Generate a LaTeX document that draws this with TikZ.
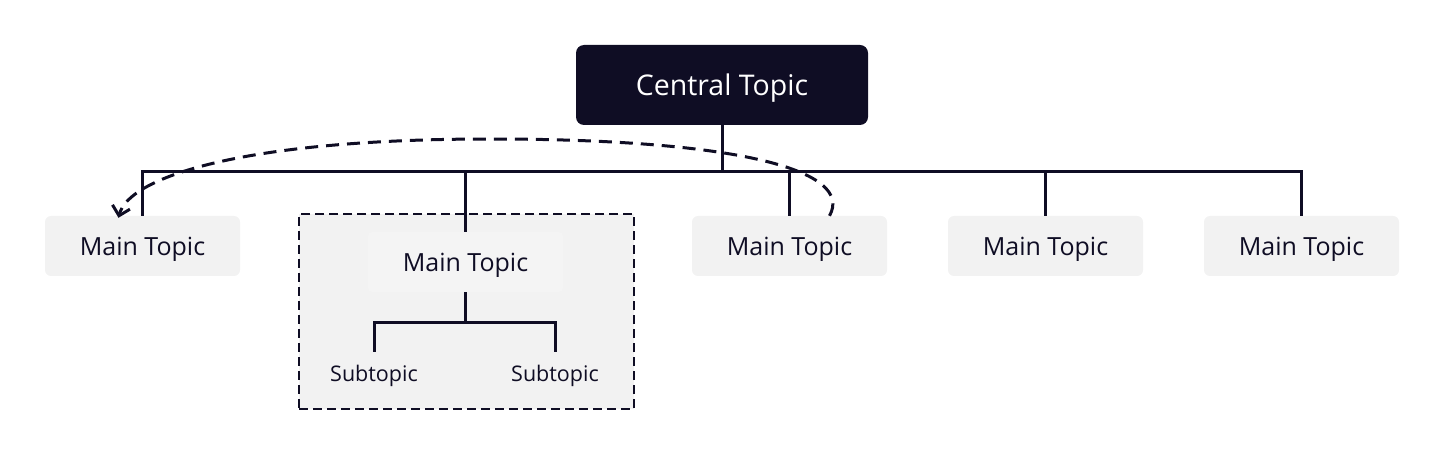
\documentclass[tikz,border=0pt]{standalone}
\usepackage{fontspec}
\setmainfont{Open Sans}
\usetikzlibrary{arrows.meta,positioning}
\definecolor{ink}{HTML}{0F0D24}
\definecolor{boxgray}{HTML}{F2F2F2}
\definecolor{innergray}{HTML}{F4F4F4}
\tikzset{
  centralbox/.style={fill=ink, text=white, rounded corners=8pt, minimum width=292pt, minimum height=80pt, inner sep=0pt, text depth=0pt, font=\fontsize{28.5}{32}\selectfont},
  mainbox/.style={fill=boxgray, rounded corners=6pt, minimum width=195pt, minimum height=60pt, inner sep=0pt, text depth=0pt, text=ink, font=\fontsize{25}{28}\selectfont},
  innerbox/.style={fill=innergray, rounded corners=4pt, minimum width=195pt, minimum height=60pt, inner sep=0pt, text depth=0pt, text=ink, font=\fontsize{25}{28}\selectfont},
  subbox/.style={minimum height=42pt, inner sep=0pt, text depth=0pt, text=ink, font=\fontsize{21.5}{24}\selectfont},
  groupbox/.style={draw=ink, fill=boxgray, line width=2.7pt, dash pattern=on 9pt off 5pt, minimum width=335pt, minimum height=195pt, inner sep=0pt},
  link/.style={draw=ink, line width=3pt},
  relation/.style={draw=ink, line width=3pt, dash pattern=on 13pt off 8pt, -{Straight Barb[length=9pt,width=18pt,line width=3pt]}}
}
\begin{document}
\begin{tikzpicture}[x=1pt,y=-1pt]
\useasboundingbox (0,0) rectangle (1445,470);
\node[groupbox] (grp) at (466.5,311.5) {};
\node[centralbox] (central) at (722,85) {Central Topic};
\node[mainbox] (m1) at (142.5,246) {Main Topic};
\node[innerbox] (m2) at (465.5,262) {Main Topic};
\node[mainbox] (m3) at (789.5,246) {Main Topic};
\node[mainbox] (m4) at (1045.5,246) {Main Topic};
\node[mainbox] (m5) at (1301.5,246) {Main Topic};
\node[subbox] (s1) at (374,373) {Subtopic};
\node[subbox] (s2) at (555,373) {Subtopic};
\foreach \m in {m1,m2,m3,m4,m5}{
  \draw[link] (central.south) -- ++(0,46) -| (\m.north);
}
\draw[link] (m2.south) -- ++(0,30) -| (s1.north);
\draw[link] (m2.south) -- ++(0,30) -| (s2.north);
\coordinate (rs) at ([xshift=40pt]m3.north);
\coordinate (re) at ([xshift=-24pt,yshift=-2pt]m1.north);
\draw[relation] (rs) .. controls +(25,-45) and +(250,0) .. (490,139) .. controls +(-250,0) and +(10,-40) .. (re);
\end{tikzpicture}
\end{document}
